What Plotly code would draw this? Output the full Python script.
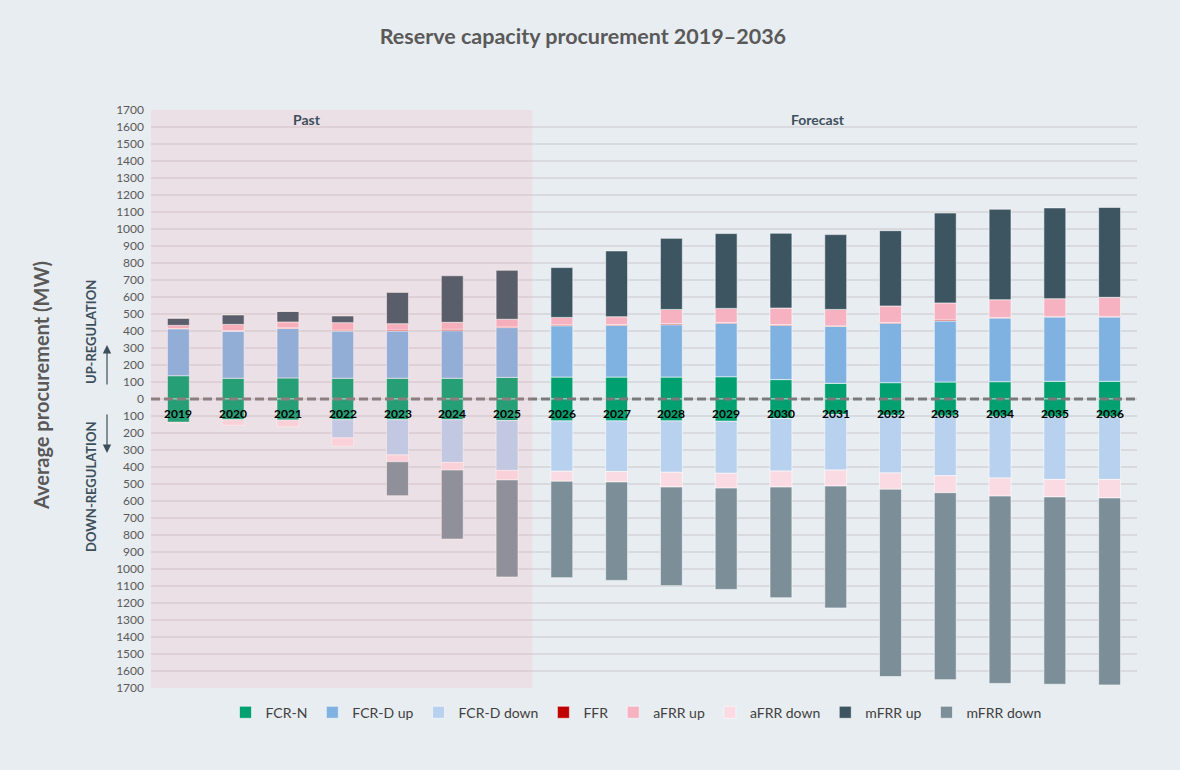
import plotly.graph_objects as go

years = [str(y) for y in range(2019, 2037)]

fcr_n = [137, 122, 124, 122, 122, 122, 127, 129, 129, 129, 131, 114, 92, 96, 100, 102, 104, 104]
fcr_d_up = [277, 278, 292, 278, 278, 280, 293, 302, 304, 308, 314, 319, 335, 349, 359, 374, 378, 378]
fcr_d_down = [0, 0, 0, 107, 207, 251, 293, 296, 298, 302, 306, 310, 326, 339, 351, 363, 369, 369]
ffr = [0, 2, 3, 5, 6, 8, 4, 5, 5, 6, 5, 5, 3, 5, 6, 3, 4, 4]
afrr_up = [19, 37, 34, 44, 37, 41, 45, 44, 46, 84, 83, 97, 97, 97, 100, 105, 104, 112]
afrr_down = [5, 33, 39, 49, 40, 45, 56, 59, 61, 87, 87, 94, 94, 96, 100, 106, 103, 109]
mfrr_up = [43, 57, 63, 41, 184, 274, 288, 293, 387, 418, 440, 440, 440, 443, 529, 532, 534, 529]
mfrr_down = [0, 0, 0, 0, 200, 406, 571, 567, 579, 580, 596, 651, 717, 1102, 1100, 1102, 1102, 1100]

tick_values = list(range(-1700, 1800, 100))
tick_labels = [str(abs(v)) for v in tick_values]

colors = {
    "FCR-N": "#00A070",
    "FCR-D up": "#7FB2E0",
    "FCR-D down": "#B8D1EE",
    "FFR": "#C00000",
    "aFRR up": "#F6B2C0",
    "aFRR down": "#FADBE3",
    "mFRR up": "#3D5461",
    "mFRR down": "#7C8F99",
}

BG = "#E8EDF1"
FONT = "Lato"
W, H = 1180, 770
ML, MR, MT, MB = 151, 43, 110, 82
PW, PH = W - ML - MR, H - MT - MB


def px(xp):
    return (xp - ML) / PW


def py(yp):
    return (H - MB - yp) / PH


fig = go.Figure()


def add(name, vals, sign, show=True):
    fig.add_trace(go.Bar(
        x=years, y=[sign * v for v in vals], name=name,
        marker=dict(color=colors[name], line=dict(color="rgba(255,255,255,0.55)", width=1)),
        legendgroup=name, showlegend=show,
    ))


add("FCR-N", fcr_n, 1)
add("FCR-N", fcr_n, -1, show=False)
add("FCR-D up", fcr_d_up, 1)
add("FCR-D down", fcr_d_down, -1)
add("FFR", ffr, 1)
add("aFRR up", afrr_up, 1)
add("aFRR down", afrr_down, -1)
add("mFRR up", mfrr_up, 1)
add("mFRR down", mfrr_down, -1)

# zero dashed line
fig.add_shape(type="line", xref="paper", yref="y", x0=0, x1=1, y0=0, y1=0,
              line=dict(color="#7A7A7A", width=2.8, dash="9px,4px"), layer="above")
# past shading overlay
fig.add_shape(type="rect", xref="x", yref="y", x0=-0.5, x1=6.46, y0=-1700, y1=1700,
              fillcolor="rgba(252,157,160,0.15)", line=dict(width=0), layer="above")

# year labels along zero line
for i, yr in enumerate(years):
    fig.add_annotation(x=i, y=-88, xref="x", yref="y", text="<b>%s</b>" % yr,
                       showarrow=False, xanchor="center", yanchor="middle",
                       font=dict(family=FONT, size=12, color="#000000"))

fig.add_annotation(x=2.35, y=1647, xref="x", yref="y", text="<b>Past</b>", showarrow=False,
                   font=dict(family=FONT, size=14, color="#3D4F5B"))
fig.add_annotation(x=11.68, y=1647, xref="x", yref="y", text="<b>Forecast</b>", showarrow=False,
                   font=dict(family=FONT, size=14, color="#3D4F5B"))

# side labels
fig.add_annotation(x=px(41), y=py(386), xref="paper", yref="paper", text="<b>Average procurement (MW)</b>",
                   textangle=-90, showarrow=False, xanchor="center", yanchor="middle",
                   font=dict(family=FONT, size=20, color="#595959"))
fig.add_annotation(x=px(91), y=py(332), xref="paper", yref="paper", text="<b>UP-REGULATION</b>",
                   textangle=-90, showarrow=False, xanchor="center", yanchor="middle",
                   font=dict(family=FONT, size=13, color="#3D4F5B"))
fig.add_annotation(x=px(91), y=py(487), xref="paper", yref="paper", text="<b>DOWN-REGULATION</b>",
                   textangle=-90, showarrow=False, xanchor="center", yanchor="middle",
                   font=dict(family=FONT, size=13, color="#3D4F5B"))
fig.add_annotation(x=px(107), y=py(345), ax=0, ay=41, xref="paper", yref="paper",
                   axref="pixel", ayref="pixel", text="", showarrow=True, arrowhead=2,
                   arrowsize=1.4, arrowwidth=1.2, arrowcolor="#3D4F5B")
fig.add_annotation(x=px(107), y=py(453), ax=0, ay=-40, xref="paper", yref="paper",
                   axref="pixel", ayref="pixel", text="", showarrow=True, arrowhead=2,
                   arrowsize=1.4, arrowwidth=1.2, arrowcolor="#3D4F5B")

fig.update_layout(
    width=W, height=H,
    paper_bgcolor=BG, plot_bgcolor=BG,
    barmode="relative", bargap=0.6,
    margin=dict(l=ML, r=MR, t=MT, b=MB),
    title=dict(text="<b>Reserve capacity procurement 2019–2036</b>", x=0.494, xanchor="center",
               y=0.952, yanchor="middle", font=dict(family=FONT, size=21.5, color="#595959")),
    font=dict(family=FONT, color="#595959"),
    xaxis=dict(type="category", range=[-0.5, 17.5], showticklabels=False, showgrid=False,
               zeroline=False, showline=False, ticks=""),
    yaxis=dict(range=[-1700, 1700], tickvals=tick_values, ticktext=tick_labels,
               showgrid=True, gridcolor="#D9DADD", gridwidth=1.5, zeroline=False,
               tickfont=dict(family=FONT, size=12, color="#595959"), ticks="", ticklabelstandoff=6),
    legend=dict(orientation="h", x=px(636), xanchor="center", y=-0.015, yanchor="top",
                font=dict(family=FONT, size=14, color="#404040"), itemwidth=30,
                traceorder="normal", bgcolor="rgba(0,0,0,0)"),
    showlegend=True,
)

fig.write_html("out.html")
